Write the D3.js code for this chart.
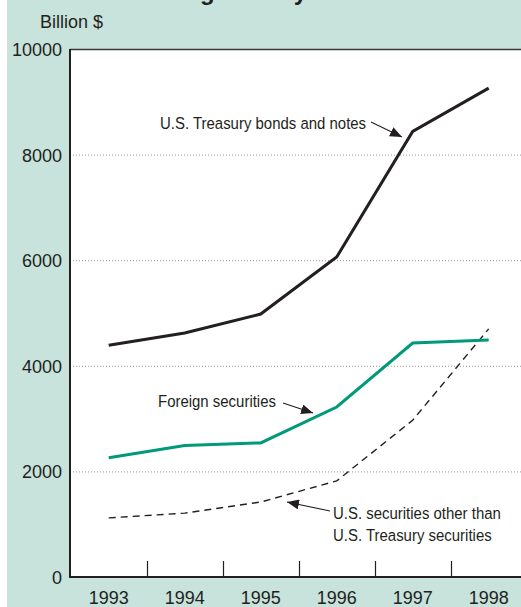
<!DOCTYPE html>
<html>
<head>
<meta charset="utf-8">
<script src="https://cdn.jsdelivr.net/npm/d3@7"></script>
<style>
  html, body { margin: 0; padding: 0; background: #ffffff; }
  svg { display: block; }
  .tick-label { font-family: "Liberation Sans", Arial, sans-serif; font-size: 18px; fill: #231f20; }
  .note { font-family: "Liberation Sans", Arial, sans-serif; font-size: 17px; fill: #231f20; }
</style>
</head>
<body>
<script>
// Holdings, billion dollars, by year
const years = ["1993", "1994", "1995", "1996", "1997", "1998"];
const treasuryBondsNotes = [4390, 4620, 4980, 6060, 8440, 9260];
const foreignSecurities = [2260, 2490, 2540, 3220, 4430, 4490];
const otherUSSecurities = [1120, 1210, 1420, 1820, 2970, 4700];
const yTicks = [0, 2000, 4000, 6000, 8000, 10000];
const titleText = "Trading Activity";
const unitLabel = "Billion $";
const noteTreasury = ["U.S. Treasury bonds and notes"];
const noteForeign = ["Foreign securities"];
const noteOther = ["U.S. securities other than", "U.S. Treasury securities"];

const W = 521, H = 607;
const plot = { left: 70, top: 49, bottom: 577 };

const svg = d3.select("body").append("svg").attr("width", W).attr("height", H);

// panel background
svg.append("rect").attr("x", 7).attr("y", 0).attr("width", W - 7).attr("height", H).attr("fill", "#c7e3dc");
svg.append("rect").attr("x", plot.left).attr("y", plot.top).attr("width", W - plot.left).attr("height", plot.bottom - plot.top).attr("fill", "#ffffff");

const x = d3.scaleBand().domain(years).range([70.7, 526.7]).padding(0);
const y = d3.scaleLinear().domain([0, 10000]).range([plot.bottom, plot.top]);
const cx = d => x(d) + x.bandwidth() / 2;

// title (runs off the top edge)
svg.append("text").attr("x", 128).attr("y", 0).attr("font-family", "Liberation Sans, Arial, sans-serif")
  .attr("font-weight", "bold").attr("font-size", 24).attr("fill", "#231f20").text(titleText);

svg.append("text").attr("class", "tick-label").attr("x", 40).attr("y", 28).text(unitLabel);

// dotted gridlines
svg.append("g").selectAll("line").data(yTicks.filter(v => v > 0 && v < 10000)).join("line")
  .attr("x1", plot.left).attr("x2", W).attr("y1", d => y(d) + 0.5).attr("y2", d => y(d) + 0.5)
  .attr("stroke", "#9a9a9a").attr("stroke-width", 1).attr("stroke-dasharray", "1,2");

// y axis labels
const yAxis = d3.axisLeft(y).tickValues(yTicks).tickSize(0).tickPadding(8).tickFormat(d3.format("d"));
const gy = svg.append("g").attr("transform", `translate(${plot.left},0)`).call(yAxis);
gy.select(".domain").remove();
gy.selectAll("text").attr("class", "tick-label").attr("font-size", null).attr("font-family", null).attr("fill", null).attr("dy", "0.36em");

// x axis labels
const xAxis = d3.axisBottom(x).tickSize(0).tickPadding(0);
const gx = svg.append("g").attr("transform", `translate(0,${plot.bottom})`).call(xAxis);
gx.select(".domain").remove();
gx.selectAll("text").attr("class", "tick-label").attr("font-size", null).attr("font-family", null).attr("fill", null)
  .attr("y", 27).attr("dy", null);

// tick marks between years
svg.append("g").selectAll("line").data(years.slice(1)).join("line")
  .attr("x1", d => Math.round(x(d)) + 0.5).attr("x2", d => Math.round(x(d)) + 0.5)
  .attr("y1", plot.bottom - 16).attr("y2", plot.bottom)
  .attr("stroke", "#231f20").attr("stroke-width", 1.2);

// frame
svg.append("line").attr("x1", plot.left).attr("x2", W).attr("y1", plot.top + 0.5).attr("y2", plot.top + 0.5)
  .attr("stroke", "#3a3a3a").attr("stroke-width", 1.5);
svg.append("line").attr("x1", plot.left).attr("x2", W).attr("y1", plot.bottom).attr("y2", plot.bottom)
  .attr("stroke", "#231f20").attr("stroke-width", 2);
svg.append("line").attr("x1", plot.left).attr("x2", plot.left).attr("y1", plot.top).attr("y2", plot.bottom + 1)
  .attr("stroke", "#231f20").attr("stroke-width", 2);

const line = d3.line().x((d, i) => cx(years[i])).y(d => y(d));

svg.append("path").datum(otherUSSecurities).attr("d", line).attr("fill", "none")
  .attr("stroke", "#231f20").attr("stroke-width", 1.4).attr("stroke-dasharray", "7,5");
svg.append("path").datum(foreignSecurities).attr("d", line).attr("fill", "none")
  .attr("stroke", "#009a7a").attr("stroke-width", 3);
svg.append("path").datum(treasuryBondsNotes).attr("d", line).attr("fill", "none")
  .attr("stroke", "#231f20").attr("stroke-width", 3);

// arrowhead
svg.append("defs").append("marker").attr("id", "arrow").attr("viewBox", "0 0 12 10")
  .attr("refX", 12).attr("refY", 5).attr("markerWidth", 12).attr("markerHeight", 10)
  .attr("markerUnits", "userSpaceOnUse").attr("orient", "auto")
  .append("path").attr("d", "M0,0 L12,5 L0,10 Z").attr("fill", "#231f20");

// condensed annotation text with a leader arrow
function note(lines, tx, ty, lh, arrow) {
  const t = svg.append("text").attr("class", "note")
    .attr("transform", `translate(${tx},${ty}) scale(0.88,1)`);
  lines.forEach((s, i) => t.append("tspan").attr("x", 0).attr("y", i * lh).text(s));
  svg.append("line").attr("x1", arrow[0]).attr("y1", arrow[1]).attr("x2", arrow[2]).attr("y2", arrow[3])
    .attr("stroke", "#231f20").attr("stroke-width", 1.1).attr("marker-end", "url(#arrow)");
}

note(noteTreasury, 160, 129, 0, [371, 122, 402, 137]);
note(noteForeign, 158, 407, 0, [283, 403, 313, 413]);
note(noteOther, 333, 519, 22, [330, 511, 287, 502]);
</script>
</body>
</html>
